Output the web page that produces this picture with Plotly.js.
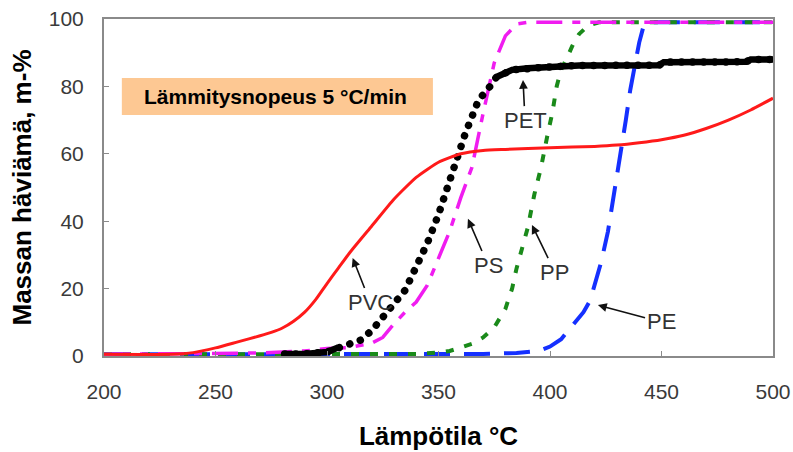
<!DOCTYPE html>
<html><head><meta charset="utf-8">
<script src="https://cdn.plot.ly/plotly-3.0.1.min.js"></script>
<style>html,body{margin:0;padding:0;background:#fff}#chart{width:793px;height:452px}</style>
</head><body><div id="chart"></div>
<script>
// ---- data (temperature °C, mass loss m-%) ----
const pvcTemp = [200,230,240,250,260,270,275,280,285,290,295,300,305,310,320,330,340,350,360,370,380,400,420,430,440,450,460,470,480,490,500];
const pvcLoss = [0.5,0.5,1,2.4,4.2,6.0,7.0,8.3,10.3,13,16.8,21.5,26,30.5,38.5,46.5,53,57.5,60,61,61.3,61.8,62.2,62.6,63.3,64.2,65.5,67.5,70,73,76.5];

const petTemp = [281,290,300,305,310,315,320,325,330,335,340,345,350,355,358,362,365,368,372,376,383,390,400,413,449,451,488,490,500];
const petLoss = [0.6,0.6,1.2,2.5,3.3,4.7,7.5,11.5,14.8,19.5,26.5,33.5,42,52,59,66,71,76,79,82.8,84.9,85.4,85.8,86.2,86.3,87.2,87.3,88,88];

const psTemp = [200,250,270,290,300,310,320,325,330,335,340,345,350,355,360,365,370,375,380,385,390,500];
const psLoss = [0.5,0.6,0.9,1.5,2.2,2.5,3.8,5.5,9.5,13,16,21,29,37,47,56,72,87,95,98.5,99,99];

const ppTemp = [200,300,340,350,355,360,365,370,375,380,383,385,388,390,393,396,399,401,403,405,408,410,413,417,422,500];
const ppLoss = [0.5,0.5,0.6,1,1.5,2.5,3.6,5.5,8.5,14,20,26,33,38,48,56,66,72,80,85,89,92,95.5,98,99,99];

const peTemp = [200,300,370,385,395,400,405,410,415,418,420,423,426,428,430,432,434,436,438,440,442,445,500];
const peLoss = [0.5,0.5,0.6,0.9,1.5,2.8,5,9,13,16.5,21,28,37,45,53,62,70,79,86,93,98,99,99];

const xTicks = [200,250,300,350,400,450,500];
const yTicks = [0,20,40,60,80,100];
const seriesNames = ['PVC','PET','PS','PP','PE'];
const rateLabel = 'Lämmitysnopeus 5 °C/min';
const xTitle = 'Lämpötila °C';
const yTitle = 'Massan häviämä, m-%';

// PET flat parts drawn as a dense band
const petBand = petLoss.map((v,i)=> (petTemp[i] <= 305 || petTemp[i] >= 376) ? v : null);

const FONT = 'Arial, "Liberation Sans", sans-serif';

const traces = [
  {x: peTemp, y: peLoss, name: seriesNames[4], mode:'lines', line:{color:'#1530ff', width:4, dash:'26px,14px'}},
  {x: ppTemp, y: ppLoss, name: seriesNames[3], mode:'lines', line:{color:'#1a8a1a', width:4, dash:'8px,11px'}},
  {x: psTemp, y: psLoss, name: seriesNames[2], mode:'lines', line:{color:'#f01cf0', width:3.5, dash:'26px,10px,8px,10px'}},
  {x: petTemp, y: petLoss, name: seriesNames[1], mode:'lines', line:{color:'#000000', width:7.5, dash:'0.1px,11px'}},
  {x: petTemp, y: petBand, name: seriesNames[1], mode:'lines', connectgaps:false, line:{color:'#000000', width:6.5}},
  {x: pvcTemp, y: pvcLoss, name: seriesNames[0], mode:'lines', line:{color:'#ff1a1a', width:3, shape:'spline', smoothing:0.5}}
];

const lbl = (text, x, y, ax, ay) => ({
  text: text, x: x, y: y, ax: ax, ay: ay, xref:'x', yref:'y', axref:'x', ayref:'y',
  showarrow:true, arrowhead:2, arrowsize:1.1, arrowwidth:1.6, arrowcolor:'#111',
  font:{family:FONT, size:22, color:'#333'}, borderpad:1
});

const layout = {
  width: 793, height: 452,
  margin: {l:104, r:20, t:19, b:96},
  paper_bgcolor:'#fff', plot_bgcolor:'#fff',
  showlegend:false,
  font:{family:FONT, color:'#3a3a3a'},
  xaxis:{
    range:[200,500], tickvals:xTicks, ticktext:xTicks.map(String),
    showline:true, mirror:true, linecolor:'#8a8a8a', linewidth:2,
    ticks:'inside', ticklen:5, tickcolor:'#8a8a8a', showgrid:false, zeroline:false,
    tickfont:{family:FONT, size:21, color:'#3a3a3a'}, ticklabelstandoff:16,
    title:{text:xTitle, font:{family:FONT, size:26, color:'#000', weight:700}, standoff:25}
  },
  yaxis:{
    range:[0,100], tickvals:yTicks, ticktext:yTicks.map(String),
    showline:true, mirror:true, linecolor:'#8a8a8a', linewidth:2,
    ticks:'inside', ticklen:5, tickcolor:'#8a8a8a', showgrid:false, zeroline:false,
    tickfont:{family:FONT, size:21, color:'#3a3a3a'}, ticklabelstandoff:14,
    title:{text:yTitle, font:{family:FONT, size:26, color:'#000', weight:700}, standoff:10}
  },
  shapes:[{type:'rect', xref:'x', yref:'y', x0:208, x1:347.5, y0:71.5, y1:82.5, fillcolor:'#fdc893', line:{width:0}, layer:'below'}],
  annotations:[
    {text:rateLabel, x:277, y:77, xref:'x', yref:'y', showarrow:false, font:{family:FONT, size:21, color:'#000', weight:700}},
    lbl(seriesNames[1], 387.9, 81.9, 388.8, 70),
    lbl(seriesNames[0], 311.5, 29.1, 319.3, 16),
    lbl(seriesNames[2], 363.2, 40.7, 372.2, 27),
    lbl(seriesNames[3], 391.9, 38.9, 402.2, 24.9),
    lbl(seriesNames[4], 421.5, 15.1, 449.8, 10.1)
  ]
};

Plotly.newPlot('chart', traces, layout, {staticPlot:true}).then(function(gd){
  const tr = gd.querySelectorAll('.scatterlayer .trace');
  if (tr[3]) tr[3].querySelectorAll('path.js-line').forEach(p => p.style.strokeLinecap = 'round');
});
</script>
</body></html>
